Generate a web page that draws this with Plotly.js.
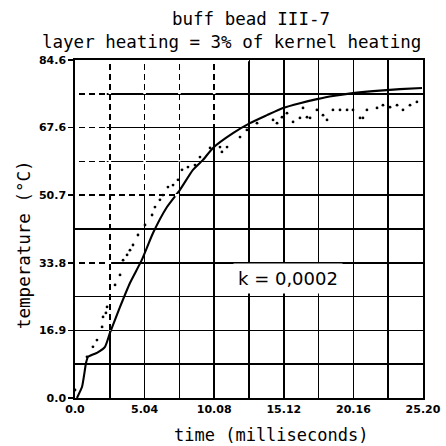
<!DOCTYPE html>
<html><head><meta charset="utf-8">
<script src="https://cdn.plot.ly/plotly-3.0.1.min.js"></script>
<style>html,body{margin:0;padding:0;background:#fff}</style>
</head><body><div id="chart" style="width:446px;height:446px"></div>
<script>
// Solid curve (calculated, k = 0.0002)
const curveTime = [0.14,0.51,0.80,0.94,1.30,1.59,2.17,2.53,3.26,3.98,4.83,5.65,6.66,7.60,8.54,9.27,9.99,11.44,12.67,13.90,15.06,16.29,17.52,18.68,20.13,21.58,23.53,25.13];
const curveTemp = [0.0,2.8,8.8,10.3,10.9,11.3,12.8,16.3,22.8,28.8,34.5,41.3,47.8,52.1,57.1,59.6,62.6,66.3,68.8,70.8,72.6,73.8,74.8,75.6,76.3,76.8,77.3,77.6];
// Measured points
const ptsTime = [0.00,0.87,1.30,1.59,1.96,2.03,2.24,2.32,2.90,3.26,3.48,3.77,3.98,4.20,4.56,5.07,5.58,5.79,6.15,6.37,6.73,7.10,7.46,7.75,8.18,8.69,9.05,9.78,10.50,11.01,10.64,11.95,12.45,13.18,14.34,14.63,14.99,15.35,15.79,16.29,16.51,16.80,17.02,17.52,17.96,18.25,18.68,19.19,19.70,20.13,20.64,20.85,21.14,21.87,22.30,22.81,23.32,23.75,24.26,24.76];
const ptsTemp = [2.0,10.3,12.8,14.5,17.8,20.3,21.3,22.8,28.3,30.8,34.5,35.8,37.0,38.3,40.8,43.3,45.8,47.8,49.6,50.8,52.8,53.3,54.6,57.1,57.8,58.3,60.3,62.6,62.8,62.8,61.6,65.3,67.1,68.8,69.6,68.8,70.3,71.3,69.1,70.1,72.6,70.3,70.1,72.1,70.8,69.6,72.1,72.1,72.1,72.1,70.1,70.1,72.1,72.6,73.3,72.8,73.3,72.1,73.3,74.1];
// Axis ticks
const xTickVals = [0,5.04,10.08,15.12,20.16,25.2];
const xTickText = ['0.0','5.04','10.08','15.12','20.16','25.20'];
const yTickVals = [0,16.92,33.84,50.76,67.68,84.6];
const yTickText = ['0.0','16.9','33.8','50.7','67.6','84.6'];
const titleLines = ['buff bead III-7','layer heating = 3% of kernel heating'];
const xTitle = 'time (milliseconds)';
const yTitle = 'temperature (°C)';
const note = 'k = 0,0002';

// broken (dashed) look of the hand-drawn grid in the upper left: white dashes over grid lines
const brokenGrid = [
  [0,84.6,12.6,84.6],[2.52,84.6,2.52,16.92],[5.04,84.6,5.04,50.76],[7.56,84.6,7.56,59.22],[10.08,84.6,10.08,67.68],
  [0,76.14,2.3,76.14],[0,67.68,2.3,67.68],[0,59.22,2.3,59.22],[0,50.76,7.56,50.76],[0,33.84,2.52,33.84],[0,84.6,0,59.22]
];
const shapes = brokenGrid.map(s => ({type:'line', xref:'x', yref:'y', x0:s[0], y0:s[1], x1:s[2], y1:s[3],
  line:{color:'#fff', width:2.6, dash:'4px,6px'}, layer:'above'}));

const traces = [
  {x: ptsTime, y: ptsTemp, mode:'markers', type:'scatter', marker:{color:'#000', size:2.8}, hoverinfo:'skip', cliponaxis:false},
  {x: curveTime, y: curveTemp, mode:'lines', type:'scatter', line:{color:'#000', width:2.1, shape:'spline', smoothing:0.5}, hoverinfo:'skip'}
];
const axFont = {family:'DejaVu Sans', size:11, color:'#000', weight:'bold'};
const ttlFont = {family:'DejaVu Sans Mono', size:17.5, color:'#000'};
const gw = 1.7;
const layout = {
  width:446, height:446,
  margin:{l:75, r:23, t:60, b:48},
  paper_bgcolor:'#fff', plot_bgcolor:'#fff',
  showlegend:false,
  font:{family:'DejaVu Sans Mono', color:'#000'},
  title:{text:titleLines[0], x:251/446, xanchor:'center', xref:'container', y:1-18.5/446, yanchor:'middle', font:ttlFont},
  xaxis:{range:[0,25.2], tickvals:xTickVals, ticktext:xTickText, tickfont:axFont, ticks:'', showgrid:true, gridcolor:'#000', gridwidth:gw,
    minor:{dtick:2.52, tick0:0, showgrid:true, gridcolor:'#000', gridwidth:gw},
    showline:true, linecolor:'#000', linewidth:gw, mirror:true, zeroline:false},
  yaxis:{range:[0,84.6], tickvals:yTickVals, ticktext:yTickText, tickfont:axFont, ticks:'outside', ticklen:5, tickcolor:'#000', tickwidth:1.5, showgrid:true, gridcolor:'#000', gridwidth:gw,
    minor:{dtick:8.46, tick0:0, showgrid:true, gridcolor:'#000', gridwidth:gw},
    showline:true, linecolor:'#000', linewidth:gw, mirror:true, zeroline:false},
  shapes: shapes,
  annotations:[
    {x:(231-75)/348, y:(398-41.5)/338, xref:'paper', yref:'paper', text:titleLines[1], showarrow:false, font:ttlFont, xanchor:'center', yanchor:'middle'},
    {x:(271-75)/348, y:(398-435)/338, xref:'paper', yref:'paper', text:xTitle, showarrow:false, font:{family:'DejaVu Sans Mono', size:17, color:'#000'}, xanchor:'center', yanchor:'middle'},
    {x:(24-75)/348, y:(398-245)/338, xref:'paper', yref:'paper', text:yTitle, textangle:-90, showarrow:false, font:ttlFont, xanchor:'center', yanchor:'middle'},
    {x:15.42, y:29.9, xref:'x', yref:'y', text:note, showarrow:false, bgcolor:'#fff', borderpad:4,
    font:{family:'DejaVu Sans', size:18, color:'#000'}}]
};
Plotly.newPlot('chart', traces, layout, {displayModeBar:false, staticPlot:true});
</script></body></html>
